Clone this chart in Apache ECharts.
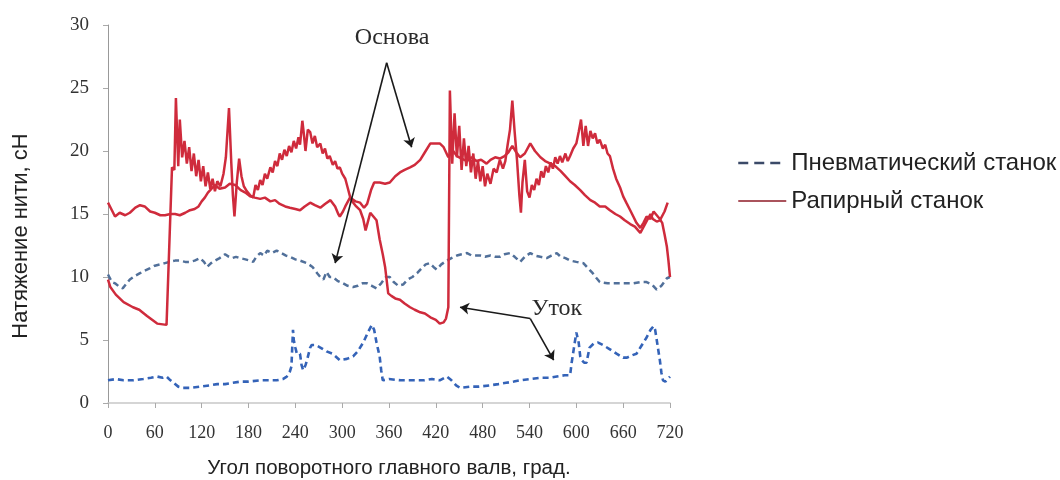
<!DOCTYPE html>
<html>
<head>
<meta charset="utf-8">
<script src="https://cdn.jsdelivr.net/npm/echarts@6/dist/echarts.min.js"></script>
<style>
  html, body { margin: 0; padding: 0; background: #fff; }
  #chart { width: 1060px; height: 480px; }
</style>
</head>
<body>
<div id="chart"></div>
<script>
// угол поворота, градусы
var xTicks = [0, 60, 120, 180, 240, 300, 360, 420, 480, 540, 600, 660, 720];
var yTicks = [0, 5, 10, 15, 20, 25, 30];

// Рапирный станок - основа (плавная кривая)
var rapierWarp = [
  [0,15.9],[5,15.3],[9,14.8],[15,15.1],[22,14.9],[28,15.1],[35,15.5],[41,15.7],[47,15.6],[54,15.2],
  [60,15.1],[67,14.9],[73,14.9],[80,15.0],[86,15.0],[92,14.9],[99,15.1],[105,15.3],[111,15.4],[116,15.6],
  [120,16.0],[124,16.3],[128,16.7],[131,16.9],[137,17.3],[143,17.0],[150,17.1],[156,17.4],[163,17.3],[170,16.9],
  [176,16.7],[182,16.4],[188,16.3],[195,16.2],[201,16.3],[208,16.0],[214,16.1],[220,15.8],[227,15.6],[233,15.5],
  [240,15.4],[246,15.3],[252,15.6],[259,15.9],[265,15.7],[272,15.5],[278,15.8],[285,16.1],[291,15.6],[295,15.0],
  [297,14.8],[301,15.2],[304,15.6],[310,16.3],[317,16.0],[323,15.9],[328,15.5],[332,15.8],[337,16.9],[341,17.5],
  [348,17.5],[355,17.4],[361,17.5],[368,18.0],[374,18.3],[380,18.5],[387,18.7],[393,18.9],[400,19.3],[406,19.9],
  [413,20.6],[419,20.6],[425,20.6],[430,20.3],[436,19.5],[441,20.1],[447,19.6],[453,19.4],[460,19.2],[466,19.5],
  [472,19.2],[478,19.3],[485,19.0],[490,19.3],[496,19.5],[502,19.4],[508,19.6],[513,19.9],[518,20.4],[523,19.9],
  [528,19.5],[534,19.8],[541,20.6],[547,20.0],[554,19.5],[560,19.2],[567,19.0],[573,18.8],[580,18.4],[586,18.0],
  [592,17.6],[598,17.3],[605,16.9],[611,16.5],[618,16.1],[624,15.9],[630,15.6],[637,15.6],[643,15.3],[650,15.0],
  [656,14.8],[662,14.5],[669,14.2],[675,14.0],[682,13.5],[688,14.2],[695,15.0],[698,14.6],[703,14.4],[707,14.5],
  [713,15.2],[717,15.9]
];

// Рапирный станок - уток / пики
var rapierWeft = [
  [0,9.8],[3,9.2],[10,8.6],[20,8.0],[32,7.6],[40,7.4],[50,6.9],[63,6.3],[75,6.2],[82,18.7],
  [85,18.5],[87,24.2],[90,18.8],[92,22.5],[95,19.5],[98,20.8],[101,19.0],[104,20.3],[107,18.4],[110,19.8],
  [113,18.0],[116,19.3],[119,17.6],[122,18.8],[125,17.2],[128,18.3],[131,17.0],[134,17.8],[137,16.8],[140,17.6],
  [144,17.2],[148,18.2],[151,19.5],[155,23.4],[158,19.0],[160,16.5],[162,14.8],[165,17.5],[168,19.4],[171,18.0],
  [174,17.2],[178,16.8],[182,16.5],[186,16.3],[189,17.3],[192,16.9],[195,17.7],[198,17.3],[201,18.2],[204,17.8],
  [208,18.7],[211,18.3],[214,19.2],[217,18.8],[220,19.8],[223,19.3],[226,20.1],[229,19.6],[232,20.4],[235,19.9],
  [238,20.8],[241,20.2],[244,21.1],[246,20.5],[249,22.4],[251,21.3],[253,20.0],[256,21.7],[259,21.5],[262,20.6],
  [265,21.2],[268,20.3],[272,20.6],[275,19.8],[278,20.2],[281,19.4],[284,19.6],[288,18.9],[291,19.2],[294,18.6],
  [297,18.7],[300,18.2],[304,17.8],[307,17.1],[310,16.4],[313,16.0],[318,15.6],[323,15.3],[327,14.6],[330,13.7],
  [333,14.4],[336,15.1],[340,14.8],[344,14.5],[348,13.0],[352,11.8],[355,10.8],[359,8.7],[363,8.5],[368,8.3],
  [374,8.2],[380,7.9],[387,7.6],[393,7.4],[400,7.2],[406,7.1],[413,6.8],[420,6.6],[425,6.3],[430,6.4],
  [433,6.7],[436,7.6],[438,24.8],[441,19.0],[444,23.0],[447,19.5],[450,22.0],[453,18.5],[456,21.0],[459,18.8],
  [462,20.4],[465,18.3],[468,19.8],[471,17.8],[474,19.2],[477,17.6],[480,18.8],[483,17.2],[486,18.2],[490,17.4],
  [494,18.6],[498,18.3],[502,19.3],[506,18.6],[509,19.2],[512,20.5],[515,21.7],[518,24.0],[521,21.5],[524,19.3],
  [527,16.5],[529,15.1],[531,17.5],[534,19.3],[537,16.8],[540,16.3],[543,17.3],[546,16.9],[549,17.8],[552,17.3],
  [555,18.4],[558,17.9],[561,18.8],[564,18.3],[567,19.1],[570,18.6],[573,19.5],[576,19.0],[579,19.6],[582,19.1],
  [586,19.8],[589,19.2],[592,19.6],[596,20.2],[600,20.6],[603,21.5],[606,22.5],[609,20.4],[612,22.0],[615,20.4],
  [618,21.6],[621,21.0],[624,21.4],[627,20.6],[630,20.9],[634,20.2],[637,20.5],[640,19.8],[643,19.6],[647,18.6],
  [651,17.8],[656,17.1],[660,16.4],[664,15.9],[669,15.3],[673,14.8],[677,14.3],[682,13.9],[686,14.3],[690,14.8],
  [695,14.6],[699,15.2],[703,14.9],[707,14.6],[710,14.3],[713,13.4],[716,12.4],[718,11.3],[720,10.0]
];

// Пневматический станок - основа
var pneuWarp = [
  [0,10.2],[5,9.6],[9,9.5],[15,9.2],[19,9.1],[24,9.5],[28,9.8],[35,10.1],[41,10.3],[47,10.5],
  [54,10.7],[60,10.9],[67,11.0],[73,11.1],[79,11.2],[86,11.3],[92,11.3],[99,11.2],[105,11.2],[111,11.3],
  [118,11.5],[123,11.2],[127,10.8],[132,11.1],[137,11.3],[143,11.5],[150,11.8],[155,11.6],[159,11.5],[164,11.6],
  [169,11.5],[176,11.4],[182,11.3],[186,11.2],[190,11.6],[195,11.9],[200,11.7],[204,12.1],[210,11.9],[216,12.1],
  [222,11.9],[228,11.7],[233,11.6],[240,11.4],[246,11.3],[255,11.1],[262,10.8],[268,10.3],[272,10.0],[276,9.8],
  [280,10.4],[284,10.0],[288,10.0],[294,9.7],[301,9.5],[307,9.3],[314,9.2],[320,9.3],[326,9.5],[332,9.5],
  [338,9.3],[344,9.1],[350,9.5],[356,10.0],[361,10.0],[366,9.6],[372,9.3],[378,9.4],[384,9.8],[390,10.0],
  [396,10.3],[402,10.7],[407,11.0],[412,11.1],[417,10.8],[421,10.6],[427,11.0],[434,11.3],[440,11.5],[447,11.7],
  [453,11.8],[460,11.9],[466,11.7],[471,11.7],[477,11.7],[483,11.6],[490,11.7],[496,11.6],[502,11.6],[508,11.8],
  [515,11.9],[521,11.6],[528,11.2],[534,11.6],[541,11.9],[547,11.7],[554,11.6],[562,11.5],[568,11.7],[575,11.9],
  [580,11.6],[586,11.5],[592,11.3],[600,11.2],[609,11.1],[615,10.7],[621,10.3],[626,9.9],[630,9.6],[640,9.5],
  [652,9.5],[662,9.5],[673,9.5],[682,9.6],[690,9.6],[697,9.4],[703,9.0],[709,9.3],[716,9.9],[720,10.0]
];

// Пневматический станок - уток
var pneuWeft = [
  [0,1.8],[10,1.9],[20,1.8],[32,1.8],[45,1.9],[55,2.0],[63,2.1],[70,2.0],[75,2.1],[80,1.8],
  [84,1.6],[90,1.3],[96,1.2],[105,1.2],[118,1.3],[130,1.4],[140,1.5],[150,1.5],[160,1.6],[170,1.7],
  [180,1.7],[195,1.8],[205,1.8],[216,1.8],[224,1.9],[229,2.1],[233,2.5],[235,2.9],[237,5.8],[238,5.0],
  [240,4.4],[242,3.9],[246,3.9],[248,3.0],[250,2.6],[253,3.0],[255,3.4],[259,4.4],[261,4.6],[266,4.6],
  [272,4.4],[280,4.1],[288,3.9],[297,3.4],[306,3.5],[314,3.7],[320,4.1],[327,4.8],[333,5.6],[338,6.2],
  [341,5.8],[344,4.8],[348,3.7],[350,2.6],[352,1.8],[360,1.9],[375,1.8],[390,1.8],[405,1.8],[415,1.9],
  [425,1.8],[434,2.1],[440,1.8],[446,1.4],[451,1.2],[465,1.3],[475,1.3],[489,1.4],[500,1.5],[510,1.6],
  [520,1.7],[528,1.8],[540,1.9],[553,2.0],[565,2.0],[575,2.1],[585,2.2],[592,2.2],[594,3.2],[597,4.4],
  [600,5.6],[603,4.8],[605,3.7],[607,3.4],[610,3.2],[613,3.2],[617,4.4],[622,4.7],[628,4.8],[634,4.6],
  [642,4.3],[652,3.9],[660,3.6],[665,3.6],[672,3.8],[677,3.9],[683,4.5],[690,5.2],[695,5.8],[699,6.1],
  [701,5.8],[703,5.0],[705,4.2],[707,3.4],[709,2.4],[711,1.8],[714,1.7],[717,1.9],[720,2.1]
];

// подписи со стрелками: [угол, натяжение]
var warpLabel = { text: 'Основа', at: [364, 29.0] };
var warpArrows = [
  [[357, 27.0], [291, 11.1]],
  [[357, 27.0], [389, 20.3]]
];
var weftLabel = { text: 'Уток', at: [575, 7.5] };
var weftArrows = [
  [[541, 6.7], [451, 7.6]],
  [[541, 6.7], [571, 3.4]]
];

var pneuName = 'Пневматический станок';
var rapierName = 'Рапирный станок';
var yTitle = 'Натяжение нити, сН';

var chart = echarts.init(document.getElementById('chart'));

function arrowLines(list) {
  return list.map(function (a) {
    return [{ coord: a[0], symbol: 'none' }, { coord: a[1], symbol: 'arrow' }];
  });
}

var serif = 'Liberation Serif';
var sans = 'Liberation Sans';

var option = {
  animation: false,
  backgroundColor: '#fff',
  grid: { left: 108, right: 390, top: 25, bottom: 77, outerBoundsMode: 'none' },
  // подпись оси Y (сдвинута вниз, как на исходном рисунке)
  graphic: [{
    type: 'text',
    x: 21, y: 236,
    rotation: Math.PI / 2,
    style: {
      text: yTitle, fontFamily: sans, fontSize: 22, fill: '#222',
      align: 'center', verticalAlign: 'middle'
    }
  }],
  legend: {
    orient: 'vertical',
    left: 737,
    top: 151,
    padding: 0,
    itemWidth: 48,
    itemHeight: 14,
    itemGap: 14,
    textStyle: { fontFamily: sans, fontSize: 24, color: '#222' },
    data: [
      { name: pneuName, itemStyle: { opacity: 0 }, lineStyle: { color: '#3b4a68', width: 2.5, type: [10, 6] } },
      { name: rapierName, itemStyle: { opacity: 0 }, lineStyle: { color: '#8e1a26', width: 1.5 } }
    ]
  },
  xAxis: {
    type: 'value',
    min: 0, max: 720, interval: 60,
    name: 'Угол поворотного главного валв, град.',
    nameLocation: 'middle',
    nameGap: 55,
    nameTextStyle: { fontFamily: sans, fontSize: 20.5, color: '#222' },
    axisLine: { show: true, lineStyle: { color: '#c8c8c8', width: 1.5 } },
    axisTick: { show: true, length: 5, lineStyle: { color: '#aaa' } },
    axisLabel: {
      margin: 21, fontFamily: serif, fontSize: 18, color: '#333',
      customValues: xTicks
    },
    splitLine: { show: false }
  },
  yAxis: {
    type: 'value',
    min: 0, max: 30, interval: 5,
    axisLine: { show: true, lineStyle: { color: '#999', width: 1 } },
    axisTick: { show: true, length: 5, lineStyle: { color: '#aaa' } },
    axisLabel: { margin: 19, fontFamily: serif, fontSize: 19, color: '#333' },
    splitLine: { show: false }
  },
  series: [
    {
      name: pneuName, type: 'line', data: pneuWarp, showSymbol: false, symbol: 'none',
      lineStyle: { color: '#51709a', width: 2.5, type: [6, 4] }, itemStyle: { color: '#3b4a68' }, z: 2
    },
    {
      name: pneuName, type: 'line', data: pneuWeft, showSymbol: false, symbol: 'none',
      lineStyle: { color: '#3463b8', width: 2.6, type: [6, 4] }, itemStyle: { color: '#3463b8' }, z: 2
    },
    {
      name: rapierName, type: 'line', data: rapierWarp, showSymbol: false, symbol: 'none',
      lineStyle: { color: '#cf2b3c', width: 2.5 }, itemStyle: { color: '#8e1a26' }, z: 3
    },
    {
      name: rapierName, type: 'line', data: rapierWeft, showSymbol: false, symbol: 'none',
      lineStyle: { color: '#cf2b3c', width: 2.5 }, itemStyle: { color: '#cf2b3c' }, z: 3
    },
    {
      name: 'annotations', type: 'line', data: [], z: 5,
      markLine: {
        silent: true,
        symbolSize: 9,
        label: { show: false },
        lineStyle: { color: '#1a1a1a', width: 1.6, type: 'solid' },
        data: arrowLines(warpArrows).concat(arrowLines(weftArrows))
      },
      markPoint: {
        silent: true,
        symbol: 'circle',
        symbolSize: 1,
        itemStyle: { color: 'rgba(0,0,0,0)' },
        label: { show: true, position: 'inside', fontFamily: serif, fontSize: 24, color: '#2a2a2a' },
        data: [
          { coord: warpLabel.at, label: { formatter: warpLabel.text } },
          { coord: weftLabel.at, label: { formatter: weftLabel.text } }
        ]
      }
    }
  ]
};

chart.setOption(option);
</script>
</body>
</html>
